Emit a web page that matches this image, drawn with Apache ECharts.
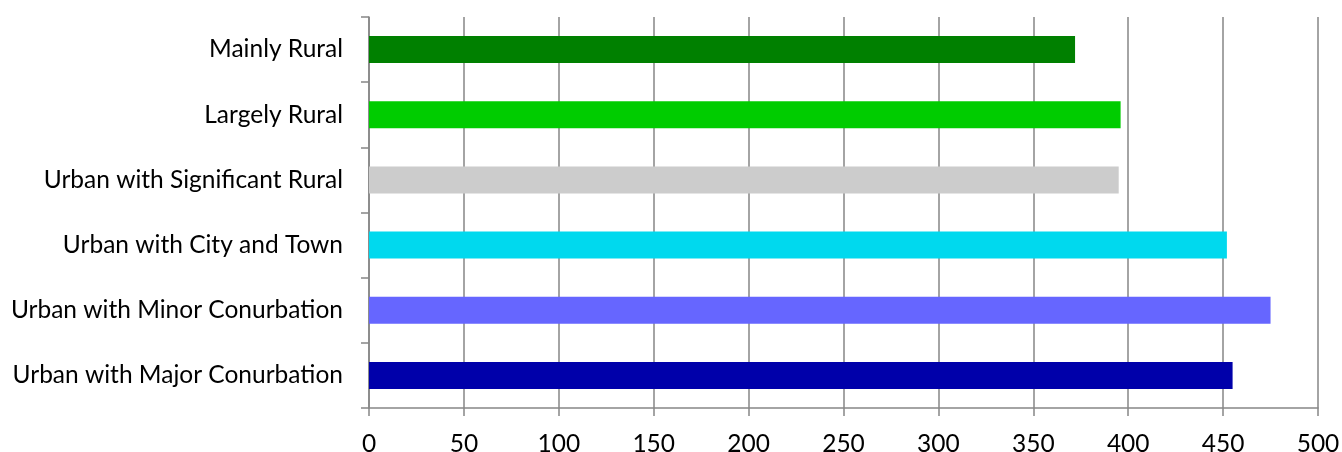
<!DOCTYPE html>
<html>
<head>
<meta charset="utf-8">
<script src="https://cdn.jsdelivr.net/npm/echarts@6/dist/echarts.min.js"></script>
<style>
html,body{margin:0;padding:0;background:#fff;}
#chart{width:1342px;height:452px;}
</style>
</head>
<body>
<div id="chart"></div>
<script>
const categories = ["Mainly Rural","Largely Rural","Urban with Significant Rural","Urban with City and Town","Urban with Minor Conurbation","Urban with Major Conurbation"];
const values = [372, 396, 395, 452, 475, 455];
const barColors = ["#008000","#00CC00","#CCCCCC","#00D9EE","#6666FF","#0000AA"];
const xTicks = {min: 0, max: 500, interval: 50};

const chart = echarts.init(document.getElementById('chart'), null, {renderer:'canvas'});
const axisGray = '#868686';
chart.setOption({
  animation: false,
  backgroundColor: '#ffffff',
  grid: {left: 369, right: 24, top: 17, bottom: 44, containLabel: false, outerBoundsMode: 'none'},
  xAxis: {
    type: 'value', min: xTicks.min, max: xTicks.max, interval: xTicks.interval,
    axisLine: {show: true, lineStyle: {color: axisGray, width: 1.5}},
    axisTick: {show: true, length: 8, lineStyle: {color: axisGray, width: 1.5}},
    splitLine: {show: true, lineStyle: {color: axisGray, width: 1.5}},
    axisLabel: {color: '#000', fontFamily: 'Lato', fontSize: 24.5, margin: 24, hideOverlap: false}
  },
  yAxis: {
    type: 'category', data: categories, inverse: true,
    axisLine: {show: true, lineStyle: {color: axisGray, width: 1.5}},
    axisTick: {show: true, length: 8, lineStyle: {color: axisGray, width: 1.5}},
    axisLabel: {color: '#000', fontFamily: 'Lato', fontSize: 24.5, margin: 26}
  },
  series: [{
    type: 'bar',
    barWidth: 27,
    data: values.map((v, i) => ({value: v, itemStyle: {color: barColors[i]}}))
  }]
});
</script>
</body>
</html>
